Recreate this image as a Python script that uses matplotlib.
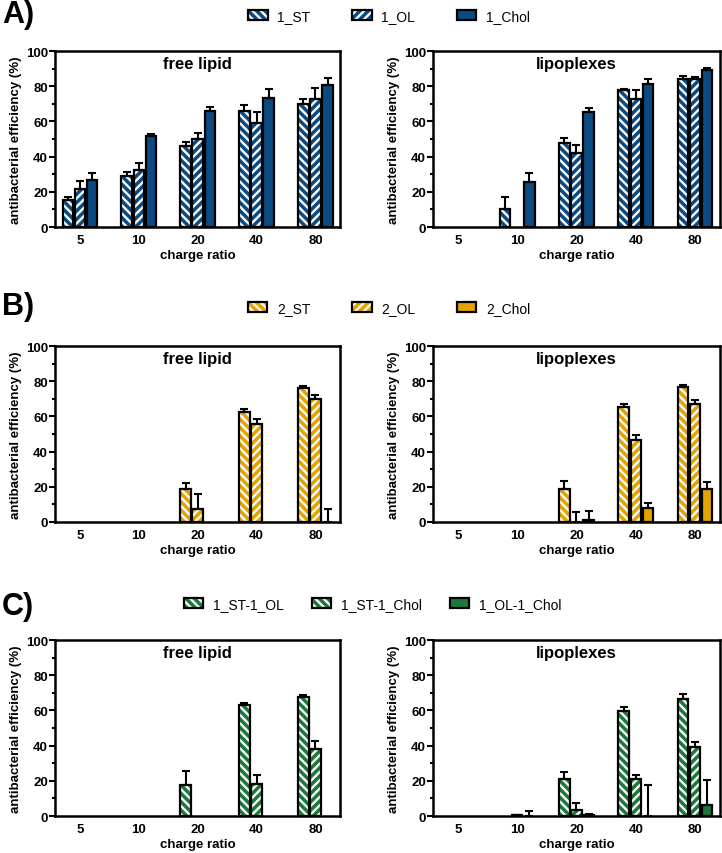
import numpy as np
import matplotlib.pyplot as plt
from matplotlib.patches import Patch
from matplotlib.ticker import MultipleLocator

plt.rcParams['font.family'] = ['Liberation Sans', 'DejaVu Sans']
plt.rcParams['font.weight'] = 'bold'
plt.rcParams['axes.labelweight'] = 'bold'
plt.rcParams['hatch.linewidth'] = 1.7

ratios = ['5', '10', '20', '40', '80']

# A) series 1
a_names = ['1_ST', '1_OL', '1_Chol']
a_free = [[15.6, 28.8, 45.8, 65.9, 70.0],
          [21.8, 32.4, 50.3, 58.9, 72.5],
          [26.7, 51.6, 65.9, 73.6, 80.6]]
a_free_err = [[1.4, 2.5, 2.6, 3.4, 2.9],
              [4.2, 3.8, 3.4, 6.6, 6.4],
              [4.2, 1.3, 2.5, 4.7, 4.3]]
a_lipo = [[0, 10.0, 48.0, 77.8, 84.4],
          [0, 0, 42.0, 72.5, 84.4],
          [0, 25.4, 65.2, 81.5, 89.1]]
a_lipo_err = [[0, 7.1, 2.8, 0.7, 1.3],
              [0, 0, 4.7, 5.5, 1.1],
              [0, 5.5, 2.2, 2.5, 1.3]]

# B) series 2
b_names = ['2_ST', '2_OL', '2_Chol']
b_free = [[0, 0, 18.9, 62.5, 76.3],
          [0, 0, 7.6, 55.5, 70.1],
          [0, 0, 0, 0, 0]]
b_free_err = [[0, 0, 3.4, 1.5, 1.0],
              [0, 0, 8.5, 3.2, 2.1],
              [0, 0, 0, 0, 7.6]]
b_lipo = [[0, 0, 19.0, 65.3, 76.7],
          [0, 0, 0, 46.4, 66.9],
          [0, 0, 1.2, 7.8, 19.0]]
b_lipo_err = [[0, 0, 4.5, 1.7, 1.3],
              [0, 0, 5.8, 3.2, 2.4],
              [0, 0, 5.0, 3.0, 3.9]]

# C) mixtures
c_names = ['1_ST-1_OL', '1_ST-1_Chol', '1_OL-1_Chol']
c_free = [[0, 0, 17.8, 63.0, 67.7],
          [0, 0, 0, 18.1, 38.2],
          [0, 0, 0, 0, 0]]
c_free_err = [[0, 0, 7.9, 1.5, 0.9],
              [0, 0, 0, 5.2, 4.3],
              [0, 0, 0, 0, 0]]
c_lipo = [[0, 0, 21.0, 59.7, 66.7],
          [0, 0.3, 3.6, 21.0, 39.5],
          [0, 0, 0.5, 0, 6.2]]
c_lipo_err = [[0, 0, 3.8, 2.3, 2.7],
              [0, 0, 3.6, 2.4, 2.3],
              [0, 2.8, 0.5, 17.6, 14.4]]

blue = '#0c4a82'
orange = '#e3a300'
green = '#1b7a3b'
bar_hatch = ['\\\\\\\\', '////', None]


def draw_panel(ax, vals, errs, color, title):
    x = np.arange(len(ratios))
    for i in range(3):
        v = np.array(vals[i], dtype=float)
        e = np.array(errs[i], dtype=float)
        xi = x + (i - 1) * 0.205
        keep = v > 0
        if bar_hatch[i]:
            ax.bar(xi[keep], v[keep], 0.175, color=color, edgecolor='white',
                   hatch=bar_hatch[i], linewidth=0, zorder=2)
            ax.bar(xi[keep], v[keep], 0.175, facecolor='none', edgecolor='black',
                   linewidth=1.6, zorder=3)
        else:
            ax.bar(xi[keep], v[keep], 0.175, color=color, edgecolor='black',
                   linewidth=1.6, zorder=3)
        show = (v > 0) | (e > 0)
        ax.errorbar(xi[show], v[show], yerr=[np.zeros(show.sum()), e[show]],
                    fmt='none', ecolor='black', elinewidth=1.5, capsize=3,
                    capthick=1.5, zorder=4)
    ax.set_xlim(-0.42, 4.42)
    ax.set_ylim(0, 100)
    ax.set_xticks(x)
    ax.set_xticklabels(ratios)
    ax.yaxis.set_major_locator(MultipleLocator(20))
    ax.yaxis.set_minor_locator(MultipleLocator(10))
    ax.tick_params(axis='x', length=0, labelsize=9.5, pad=5)
    ax.tick_params(axis='y', which='major', length=4, width=1.5, labelsize=9.5, pad=1)
    ax.tick_params(axis='y', which='minor', length=2.5, width=1.5)
    for s in ax.spines.values():
        s.set_linewidth(1.8)
    ax.set_ylabel('antibacterial efficiency (%)', fontsize=9.5, fontweight='bold', labelpad=3)
    ax.set_xlabel('charge ratio', fontsize=9.5, fontweight='bold', labelpad=2)
    ax.text(0.5, 0.93, title, transform=ax.transAxes, ha='center', va='center',
            fontsize=12, fontweight='bold')


def legend_handles(color, hatches):
    hs = []
    for h in hatches:
        if h:
            hs.append((Patch(facecolor=color, edgecolor='white', hatch=h, linewidth=0),
                       Patch(facecolor='none', edgecolor='black', linewidth=1.6)))
        else:
            hs.append(Patch(facecolor=color, edgecolor='black', linewidth=1.6))
    return hs


fig = plt.figure(figsize=(7.22, 8.54), dpi=100)

rows = [
    ('A)', a_names, a_free, a_free_err, a_lipo, a_lipo_err, blue, 0.733, 0.982, 0.980, 0.539,
     ['\\\\\\\\', '////', None], 3.0),
    ('B)', b_names, b_free, b_free_err, b_lipo, b_lipo_err, orange, 0.3876, 0.640, 0.638, 0.539,
     ['\\\\\\\\', '////', None], 3.0),
    ('C)', c_names, c_free, c_free_err, c_lipo, c_lipo_err, green, 0.0433, 0.289, 0.2916, 0.516,
     ['\\\\\\\\', '\\\\\\\\', None], 2.0),
]

for label, names, free, free_err, lipo, lipo_err, color, bot, ly, legy, legx, leg_h, cs in rows:
    ax1 = fig.add_axes([0.0762, bot, 0.395, 0.206])
    ax2 = fig.add_axes([0.5997, bot, 0.3975, 0.206])
    draw_panel(ax1, free, free_err, color, 'free lipid')
    draw_panel(ax2, lipo, lipo_err, color, 'lipoplexes')
    fig.text(0.003, ly, label, fontsize=22, fontweight='bold', va='center', ha='left')
    fig.legend(legend_handles(color, leg_h), names, loc='center', bbox_to_anchor=(legx, legy),
               ncol=3, frameon=False, prop={'size': 10, 'weight': 'normal'},
               handlelength=1.4, handleheight=0.75, handletextpad=0.7, columnspacing=cs)

fig.savefig('out.png', dpi=100)
